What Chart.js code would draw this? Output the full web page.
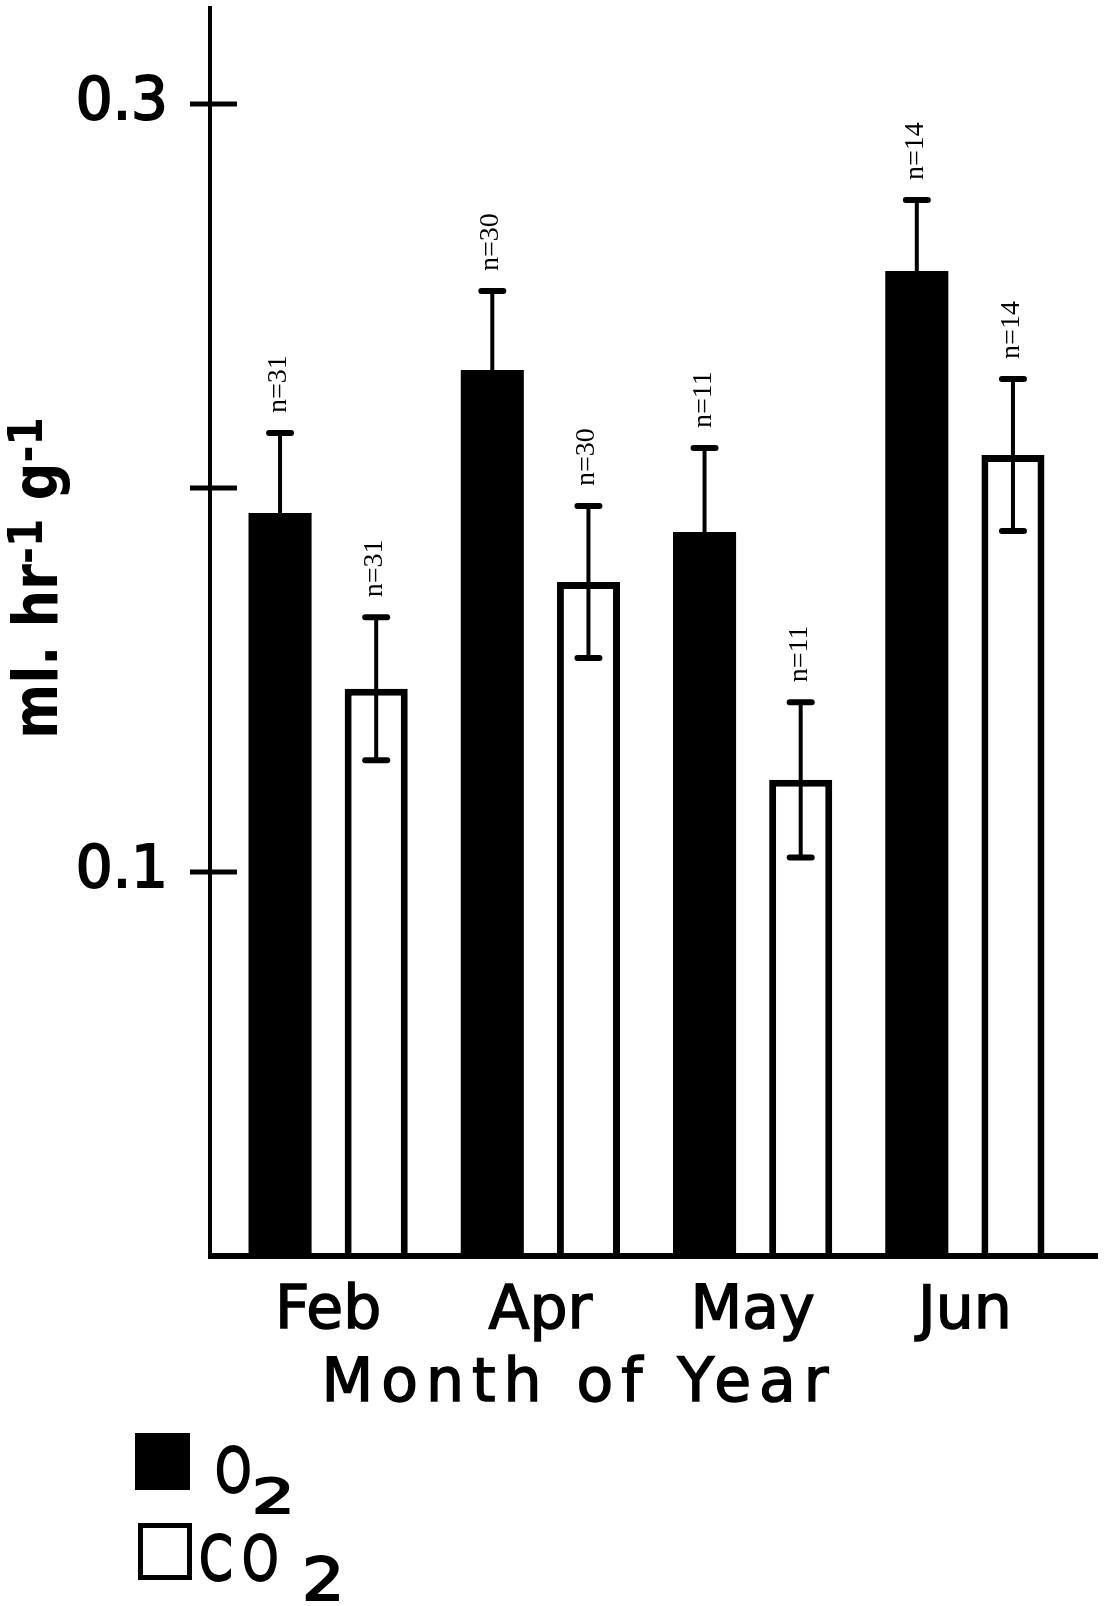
<!DOCTYPE html>
<html>
<head>
<meta charset="utf-8">
<script src="https://cdn.jsdelivr.net/npm/chart.js@4.4.1/dist/chart.umd.min.js"></script>
<style>
  html, body { margin: 0; padding: 0; background: #fff; }
  #wrap { position: relative; width: 1107px; height: 1606px; }
</style>
</head>
<body>
<div id="wrap"><canvas id="respChart"></canvas></div>
<script>
// ===== DATA =====
const months = ["Feb", "Apr", "May", "Jun"];
const o2Rate = [0.1935, 0.2307, 0.1885, 0.2565];
const o2Err = [0.0208, 0.0206, 0.0219, 0.0185];
const o2N = [31, 30, 11, 14];
const co2Rate = [0.1477, 0.1755, 0.124, 0.2086];
const co2Err = [0.0186, 0.0198, 0.0202, 0.0198];
const co2N = [31, 30, 11, 14];
const yTicks = [0.1, 0.2, 0.3];
const yLabeled = ["0.1", "0.3"]; // 0.2 tick has no label
const legendItems = [
  { base: "O", sub: "2" },
  { base: "CO", sub: "2" },
];

const FONT = "'DejaVu Sans', sans-serif";

function line(ctx, x1, y1, x2, y2) {
  ctx.beginPath();
  ctx.moveTo(x1, y1);
  ctx.lineTo(x2, y2);
  ctx.stroke();
}

// axis lines + tick marks crossing the y axis
const axisLines = {
  id: "axisLines",
  afterDatasetsDraw(chart) {
    const { ctx, chartArea, scales } = chart;
    const axisX = chartArea.left - 12;
    ctx.save();
    ctx.strokeStyle = "#000";
    ctx.lineWidth = 4;
    line(ctx, axisX, chartArea.top, axisX, chartArea.bottom);
    ctx.lineWidth = 6;
    line(ctx, axisX - 2, chartArea.bottom, chartArea.right + 27, chartArea.bottom);
    ctx.lineWidth = 5;
    yTicks.forEach((v) => {
      const py = scales.y.getPixelForValue(v);
      line(ctx, axisX - 20, py, axisX + 27, py);
    });
    ctx.restore();
  },
};

// ===== ERROR BARS + n LABELS =====
const errorBars = {
  id: "errorBars",
  afterDatasetsDraw(chart) {
    const { ctx, scales } = chart;
    ctx.save();
    ctx.strokeStyle = "#000";
    ctx.fillStyle = "#000";
    chart.data.datasets.forEach((ds, di) => {
      const meta = chart.getDatasetMeta(di);
      meta.data.forEach((bar, i) => {
        const v = ds.data[i];
        const e = ds.errors[i];
        const x = bar.x;
        const top = scales.y.getPixelForValue(v + e);
        const bot = scales.y.getPixelForValue(v - e);
        ctx.lineCap = "butt";
        ctx.lineWidth = 4;
        line(ctx, x, top, x, bot);
        ctx.lineCap = "round";
        ctx.lineWidth = 6;
        line(ctx, x - 11, top, x + 11, top);
        line(ctx, x - 11, bot, x + 11, bot);

        ctx.save();
        ctx.translate(x + 6, top - 20);
        ctx.rotate(-Math.PI / 2);
        ctx.font = "28px 'Liberation Serif', serif";
        ctx.textAlign = "left";
        ctx.textBaseline = "alphabetic";
        ctx.fillText("n=" + ds.counts[i], 0, 0);
        ctx.restore();
      });
    });
    ctx.restore();
  },
};

// ===== TITLES + LEGEND =====
const labels = {
  id: "labels",
  afterDraw(chart) {
    const { ctx } = chart;
    ctx.save();
    ctx.fillStyle = "#000";
    ctx.strokeStyle = "#000";
    ctx.textAlign = "left";
    ctx.textBaseline = "alphabetic";

    // y title: ml. hr-1 g-1 (rotated)
    const parts = [
      { t: "ml. hr", size: 62, rise: 0 },
      { t: "-1", size: 48, rise: 15 },
      { t: " g", size: 62, rise: 0 },
      { t: "-1", size: 48, rise: 15 },
    ];
    let total = 0;
    parts.forEach((p) => {
      ctx.font = `bold ${p.size}px ${FONT}`;
      p.w = ctx.measureText(p.t).width;
      total += p.w;
    });
    const sx = 0.85;
    ctx.save();
    ctx.translate(57, 578 + (total * sx) / 2);
    ctx.rotate(-Math.PI / 2);
    ctx.scale(sx, 1);
    let cx = 0;
    parts.forEach((p) => {
      ctx.font = `bold ${p.size}px ${FONT}`;
      ctx.fillText(p.t, cx, -p.rise);
      cx += p.w;
    });
    ctx.restore();

    // x title
    ctx.font = `60px ${FONT}`;
    ctx.letterSpacing = "8px";
    ctx.textAlign = "center";
    ctx.lineWidth = 1.5;
    ctx.fillText("Month of Year", 579, 1401);
    ctx.strokeText("Month of Year", 579, 1401);
    ctx.letterSpacing = "0px";
    ctx.textAlign = "left";

    // legend
    ctx.fillRect(135, 1433, 55, 57);
    ctx.lineWidth = 5;
    ctx.strokeRect(140.5, 1525.5, 49, 52);

    const drawScaled = (t, x, y, size, s) => {
      ctx.save();
      ctx.translate(x, y);
      ctx.scale(s, 1);
      ctx.font = `${size}px ${FONT}`;
      ctx.lineWidth = 2;
      ctx.fillText(t, 0, 0);
      ctx.strokeText(t, 0, 0);
      ctx.restore();
    };
    // O2
    drawScaled(legendItems[0].base, 215, 1492, 62, 0.75);
    drawScaled(legendItems[0].sub, 252, 1513, 48, 1.4);
    // CO2
    drawScaled(legendItems[1].base[0], 199, 1580, 62, 0.78);
    drawScaled(legendItems[1].base[1], 242, 1580, 62, 0.75);
    drawScaled(legendItems[1].sub, 302, 1600, 58, 1.15);
    ctx.restore();
  },
};

new Chart(document.getElementById("respChart"), {
  type: "bar",
  data: {
    labels: months,
    datasets: [
      {
        label: "O₂",
        data: o2Rate,
        errors: o2Err,
        counts: o2N,
        backgroundColor: "#000",
        borderWidth: 0,
      },
      {
        label: "CO₂",
        data: co2Rate,
        errors: co2Err,
        counts: co2N,
        backgroundColor: "#fff",
        borderColor: "#000",
        borderWidth: 7,
      },
    ],
  },
  options: {
    responsive: true,
    maintainAspectRatio: false,
    animation: false,
    categoryPercentage: 0.906,
    barPercentage: 0.656,
    layout: { padding: { top: 6, right: 36, bottom: 230, left: 0 } },
    plugins: {
      legend: { display: false },
      tooltip: { enabled: false },
    },
    scales: {
      x: {
        offset: true,
        grid: { display: false, drawTicks: false },
        border: { display: false },
        ticks: {
          color: "#000",
          padding: 20,
          font: { family: FONT, size: 60 },
          textStrokeColor: "#000",
          textStrokeWidth: 1.5,
          maxRotation: 0,
        },
        afterFit: (scale) => {
          scale.height = 120;
          scale.paddingLeft = 0;
          scale.paddingRight = 0;
        },
      },
      y: {
        min: 0,
        max: 0.3255,
        grid: { display: false, drawTicks: false },
        border: { display: false },
        ticks: {
          stepSize: 0.1,
          includeBounds: false,
          color: "#000",
          padding: 54,
          font: { family: FONT, size: 58 },
          textStrokeColor: "#000",
          textStrokeWidth: 2,
          callback: (v) => {
            const s = v.toFixed(1);
            return yLabeled.includes(s) ? s : "";
          },
        },
        afterFit: (scale) => {
          scale.width = 222;
          scale.paddingTop = 0;
          scale.paddingBottom = 0;
        },
      },
    },
  },
  plugins: [axisLines, errorBars, labels],
});
</script>
</body>
</html>
